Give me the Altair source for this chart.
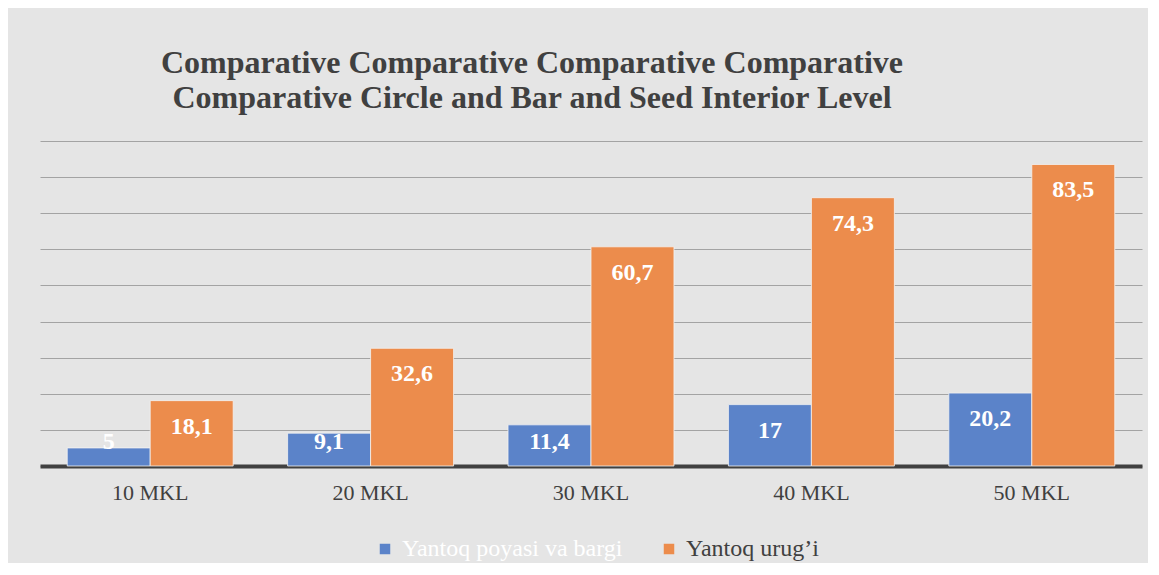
import altair as alt
import pandas as pd

categories = ["10 MKL", "20 MKL", "30 MKL", "40 MKL", "50 MKL"]
series = ["Yantoq poyasi va bargi", "Yantoq urug’i"]
stem_leaf = [5, 9.1, 11.4, 17, 20.2]
seed = [18.1, 32.6, 60.7, 74.3, 83.5]
colors = ["#5B83C9", "#EC8C4C"]
title_lines = [
    "Comparative Comparative Comparative Comparative",
    "Comparative Circle and Bar and Seed Interior Level",
]

rows = []
for c, a, b in zip(categories, stem_leaf, seed):
    for s, v in zip(series, (a, b)):
        rows.append({"cat": c, "series": s, "value": v,
                     "label": f"{v:g}".replace(".", ",")})
df = pd.DataFrame(rows)

FONT = "Liberation Serif"

x = alt.X("cat:N", sort=categories, title=None,
          scale=alt.Scale(paddingInner=0.247, paddingOuter=0.1235),
          axis=alt.Axis(labelAngle=0, labelFont=FONT, labelFontSize=22,
                        labelColor="#404040", labelPadding=16, ticks=False,
                        domainColor="#404040", domainWidth=4, grid=False))
xo = alt.XOffset("series:N", sort=series,
                 scale=alt.Scale(paddingInner=0, paddingOuter=0))
yscale = alt.Scale(domain=[0, 90], nice=False)
yaxis = alt.Axis(values=list(range(0, 91, 10)), labels=False, ticks=False,
                 domain=False, grid=True, gridColor="#a3a3a3", gridWidth=1)

legend = alt.Legend(
    orient="none", legendX=333, legendY=396, direction="horizontal",
    title=None, symbolType="square", symbolSize=110, symbolStrokeWidth=0,
    labelFont=FONT, labelFontSize=24, columnPadding=34, labelOffset=5,
    labelLimit=500,
    labelColor={"expr": "datum.label === 'Yantoq urug’i' ? '#404040' : '#ffffff'"},
)

bars = alt.Chart(df).mark_bar(stroke="#f2f2f2", strokeWidth=1, strokeOpacity=0.8).encode(
    x=x, xOffset=xo,
    y=alt.Y("value:Q", scale=yscale, title=None, axis=yaxis),
    color=alt.Color("series:N", sort=series,
                    scale=alt.Scale(domain=series, range=colors), legend=legend),
)

texts = alt.Chart(df).transform_calculate(
    lp="max(datum.value - 7.2, 6.7)"
).mark_text(font=FONT, fontWeight="bold", fontSize=24, color="white",
            baseline="middle").encode(
    x=x, xOffset=xo,
    y=alt.Y("lp:Q", scale=yscale, title=None, axis=yaxis),
    text="label:N",
)

chart = alt.layer(bars, texts).properties(
    width=1102, height=325,
    autosize=alt.AutoSizeParams(type="none"),
    padding={"left": 32, "top": 133, "right": 6, "bottom": 97},
    title=alt.Title(title_lines, font=FONT, fontSize=32, fontWeight="bold",
                    color="#404040", anchor="middle", dx=-59, offset=26,
                    lineHeight=35),
).configure(background="#e5e5e5").configure_view(stroke=None)

chart.save("out.html", embed_options={"renderer": "svg", "actions": False})
